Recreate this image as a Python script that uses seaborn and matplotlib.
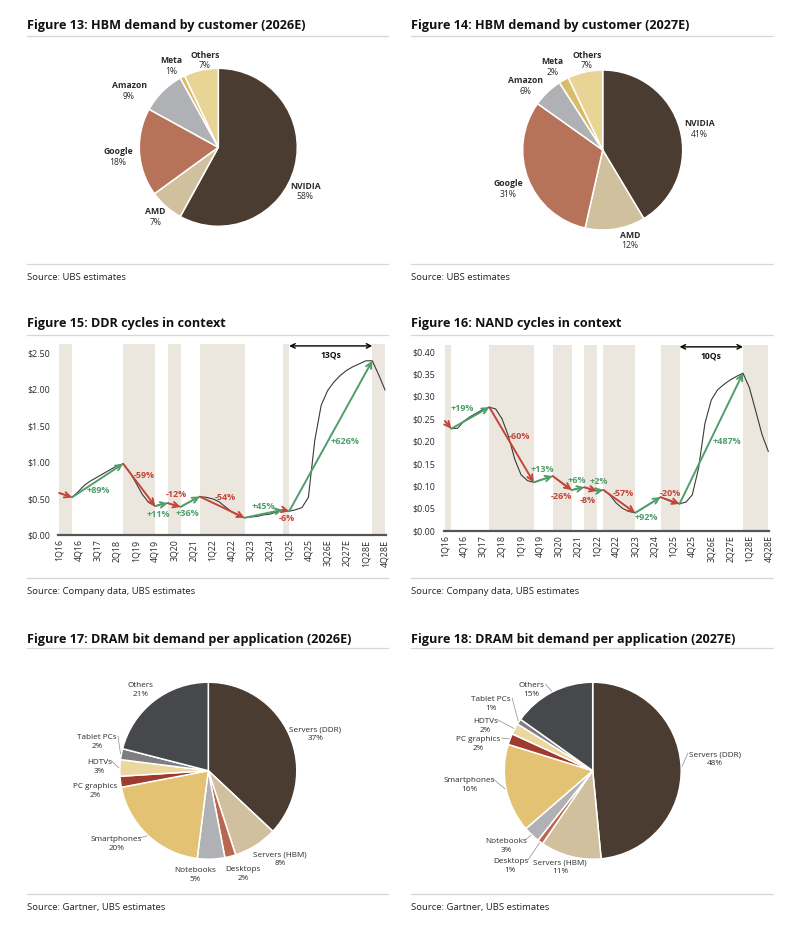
import numpy as np
import matplotlib
matplotlib.use("Agg")
import matplotlib.pyplot as plt
from matplotlib.lines import Line2D
from matplotlib.ticker import FuncFormatter
import seaborn as sns

# HBM demand by customer (%)
hbm_customers = ["NVIDIA", "AMD", "Google", "Amazon", "Meta", "Others"]
hbm_share_2026 = [58, 7, 18, 9, 1, 7]
hbm_share_2027 = [41, 12, 31, 6, 2, 7]

# DRAM bit demand per application (%)
dram_apps = ["Servers (DDR)", "Servers (HBM)", "Desktops", "Notebooks", "Smartphones",
             "PC graphics", "HDTVs", "Tablet PCs", "Others"]
dram_share_2026 = [37, 8, 2, 5, 20, 2, 3, 2, 21]
dram_share_2027 = [48, 11, 1, 3, 16, 2, 2, 1, 15]

# quarterly contract prices, 1Q16 .. 4Q28E (52 quarters)
ddr_price = [0.58, 0.55, 0.52, 0.60, 0.69, 0.75, 0.80, 0.85, 0.90, 0.95,
             0.98, 0.87, 0.72, 0.56, 0.45, 0.40, 0.43, 0.44, 0.41, 0.39,
             0.44, 0.49, 0.53, 0.52, 0.50, 0.46, 0.39, 0.32, 0.27, 0.24,
             0.25, 0.26, 0.28, 0.29, 0.32, 0.35, 0.33, 0.35, 0.38, 0.52,
             1.30, 1.78, 1.98, 2.10, 2.19, 2.26, 2.31, 2.35, 2.39, 2.39,
             2.20, 1.99]
nand_price = [0.245, 0.228, 0.229, 0.245, 0.255, 0.263, 0.271, 0.276, 0.272, 0.250,
              0.212, 0.160, 0.125, 0.112, 0.108, 0.113, 0.118, 0.122, 0.111, 0.100,
              0.091, 0.095, 0.097, 0.092, 0.089, 0.091, 0.080, 0.062, 0.050, 0.043,
              0.040, 0.048, 0.057, 0.066, 0.075, 0.069, 0.063, 0.060, 0.064, 0.080,
              0.140, 0.240, 0.292, 0.315, 0.327, 0.337, 0.345, 0.352, 0.320, 0.268,
              0.215, 0.177]
quarter_ticks = ["1Q16", "4Q16", "3Q17", "2Q18", "1Q19", "4Q19", "3Q20", "2Q21", "1Q22",
                 "4Q22", "3Q23", "2Q24", "1Q25", "4Q25", "3Q26E", "2Q27E", "1Q28E", "4Q28E"]

# cycle turning points (quarter index) and the move labelled on each leg
ddr_turns = [0, 2, 10, 15, 17, 19, 22, 29, 35, 36, 49]
ddr_moves = ["", "+89%", "-59%", "+11%", "-12%", "+36%", "-54%", "+45%", "-6%", "+626%"]
nand_turns = [0, 1, 7, 14, 17, 20, 22, 24, 25, 30, 34, 37, 47]
nand_moves = ["", "+19%", "-60%", "+13%", "-26%", "+6%", "-8%", "+2%", "-57%", "+92%",
              "-20%", "+487%"]

ddr_yticks = [0.0, 0.5, 1.0, 1.5, 2.0, 2.5]
nand_yticks = [0.0, 0.05, 0.10, 0.15, 0.20, 0.25, 0.30, 0.35, 0.40]

# label offsets (points) from the middle of each arrow
ddr_label_off = [(0, 0), (0.5, -7.3), (3.5, 7.1), (-2.3, -7), (1.7, 7.7), (-1.9, -8.4),
                 (2, 7), (-0.5, 5.1), (0.5, -5.6), (10, -3.7)]
nand_label_off = [(0, 0), (-5.5, 7), (6, 6.3), (-1, 7), (-0.5, -10), (-1, 5.7), (-2, -8.4),
                  (-1, 6.3), (2.7, 5.8), (-1, -9.2), (0, 5.2), (11, -2)]

# pie label centres, in radii from the pie centre
hbm_pos_2026 = [(1.10, -0.56), (-0.80, -0.88), (-1.27, -0.12), (-1.13, 0.71),
                (-0.60, 1.03), (-0.17, 1.10)]
hbm_pos_2027 = [(1.21, 0.26), (0.34, -1.13), (-1.18, -0.49), (-0.96, 0.80),
                (-0.625, 1.04), (-0.20, 1.12)]
dram_pos_2026 = [(1.21, 0.41), (0.81, -1.00), (0.39, -1.17), (-0.15, -1.18),
                 (-1.04, -0.83), (-1.28, -0.23), (-1.23, 0.04), (-1.26, 0.32),
                 (-0.77, 0.91)]
dram_pos_2027 = [(1.38, 0.13), (-0.37, -1.09), (-0.93, -1.08), (-0.98, -0.85),
                 (-1.39, -0.16), (-1.29, 0.30), (-1.21, 0.505), (-1.15, 0.75),
                 (-0.69, 0.91)]
dram_leader_2026 = [False, False, False, False, True, False, True, True, False]
dram_leader_2027 = [True, False, True, True, True, True, True, True, True]

hbm_colors = ["#4b3c31", "#d0c09e", "#b7735a", "#b0b1b4", "#d9bb6c", "#e8d596"]
dram_colors = ["#4b3c31", "#d0c09e", "#b8684e", "#b0b1b4", "#e3c373", "#9e3b2c",
               "#ecd79e", "#7d7e82", "#47484b"]

RED = "#c4453a"
GREEN = "#4f9e6b"
SHADE = "#ece7de"
TXT = "#2b2b2b"

W, H = 800, 934

sns.set_theme(style="white")
plt.rcParams["font.family"] = ["Open Sans", "DejaVu Sans"]

fig = plt.figure(figsize=(W / 100, H / 100), dpi=100)


def px_axes(x0, y0, x1, y1):
    return fig.add_axes([x0 / W, 1 - y1 / H, (x1 - x0) / W, (y1 - y0) / H])


def panel_frame(x0, x1, title, ytitle, yrule, ybottom, source, ysource):
    fig.text(x0 / W, 1 - ytitle / H, title, fontsize=9.1, fontweight="bold",
             color="#111111", va="center", ha="left")
    for y in (yrule, ybottom):
        fig.add_artist(Line2D([x0 / W, x1 / W], [1 - y / H, 1 - y / H],
                              color="#d6d6d6", lw=0.9))
    fig.text(x0 / W, 1 - ysource / H, source, fontsize=6.8, color="#222222",
             va="center", ha="left")


def draw_pie(cx, cy, r, shares, names, colors, positions, bold, size, leaders=None):
    half = 1.7 * r
    ax = px_axes(cx - half, cy - half, cx + half, cy + half)
    wedges, _ = ax.pie(shares, colors=colors, startangle=90, counterclock=False,
                       wedgeprops=dict(edgecolor="white", linewidth=1.1))
    ax.set_xlim(-1.7, 1.7)
    ax.set_ylim(-1.7, 1.7)
    ax.set_aspect("equal")
    ax.axis("off")
    for i, (w, name, share, (x, y)) in enumerate(zip(wedges, names, shares, positions)):
        ax.text(x, y + 0.01, name, ha="center", va="bottom", fontsize=size,
                fontweight="bold" if bold else "normal", color=TXT)
        ax.text(x, y - 0.01, f"{share}%", ha="center", va="top", fontsize=size, color=TXT)
        if leaders is not None and leaders[i]:
            ang = np.deg2rad((w.theta1 + w.theta2) / 2)
            hw = 0.021 * len(name) + 0.03
            side = 1 if x > 0 else -1
            ax.plot([np.cos(ang) * 1.01, x - side * hw], [np.sin(ang) * 1.01, y + 0.07],
                    color="#8c8c8c", lw=0.5)
    return ax


def draw_cycles(ax, price, turns, moves, offsets, ylim, yticks):
    x = np.arange(len(price))
    legs = list(zip(turns[:-1], turns[1:]))
    for a, b in legs + [(turns[-1], len(price) - 1)]:
        if price[b] < price[a]:
            ax.axvspan(a, b, color=SHADE, lw=0, zorder=0)
    sns.lineplot(x=x, y=price, ax=ax, color="#3a3a3a", lw=0.8, zorder=2)
    for (a, b), txt, off in zip(legs, moves, offsets):
        c = RED if price[b] < price[a] else GREEN
        ax.annotate("", xy=(b, price[b]), xytext=(a, price[a]),
                    arrowprops=dict(arrowstyle="->", color=c, lw=1.4, shrinkA=0,
                                    shrinkB=0, mutation_scale=10), zorder=3)
        if txt:
            ax.annotate(txt, xy=((a + b) / 2, (price[a] + price[b]) / 2), xytext=off,
                        textcoords="offset points", ha="center", va="center",
                        color=c, fontsize=6.5, fontweight="bold", zorder=4)
    a, b = turns[-2], turns[-1]
    tr = ax.get_xaxis_transform()
    ax.annotate("", xy=(b, 0.99), xytext=(a, 0.99), xycoords=tr, textcoords=tr,
                arrowprops=dict(arrowstyle="<->", color="black", lw=1.0,
                                shrinkA=0, shrinkB=0, mutation_scale=8),
                annotation_clip=False)
    ax.text((a + b) / 2, 0.943, f"{b - a}Qs", transform=tr, ha="center", va="center",
            fontsize=6.2, fontweight="bold", color="#111111")
    ax.set_xlim(-0.15, len(price) - 0.85)
    ax.set_ylim(*ylim)
    ax.set_xticks(np.arange(0, len(price), 3))
    ax.set_xticklabels(quarter_ticks, rotation=90)
    ax.set_yticks(yticks)
    ax.yaxis.set_major_formatter(FuncFormatter(lambda v, _: f"${v:.2f}"))
    ax.tick_params(length=0, labelsize=6.4, labelcolor=TXT)
    ax.tick_params(axis="x", pad=3)
    ax.tick_params(axis="y", pad=6)
    for s in ("left", "top", "right"):
        ax.spines[s].set_visible(False)
    ax.spines["bottom"].set_color("#555555")
    ax.spines["bottom"].set_linewidth(1.6)
    ax.set_xlabel("")
    ax.set_ylabel("")
    ax.patch.set_alpha(0)


# Figure 13 / 14
panel_frame(27, 388, "Figure 13: HBM demand by customer (2026E)", 25, 35.5, 264,
            "Source: UBS estimates", 277.5)
panel_frame(411, 773, "Figure 14: HBM demand by customer (2027E)", 25, 35.5, 264,
            "Source: UBS estimates", 277.5)
draw_pie(218.3, 147.3, 79, hbm_share_2026, hbm_customers, hbm_colors, hbm_pos_2026,
         True, 6.2)
draw_pie(602.7, 150, 80, hbm_share_2027, hbm_customers, hbm_colors, hbm_pos_2027,
         True, 6.2)

# Figure 15 / 16
panel_frame(27, 388, "Figure 15: DDR cycles in context", 324, 335, 577.7,
            "Source: Company data, UBS estimates", 591.7)
panel_frame(411, 773, "Figure 16: NAND cycles in context", 324, 335, 577.7,
            "Source: Company data, UBS estimates", 591.7)
ax_ddr = px_axes(58.3, 344, 386, 535.3)
draw_cycles(ax_ddr, ddr_price, ddr_turns, ddr_moves, ddr_label_off, (0, 2.62), ddr_yticks)
ax_nand = px_axes(444, 345, 769.3, 530.7)
draw_cycles(ax_nand, nand_price, nand_turns, nand_moves, nand_label_off, (0, 0.415),
            nand_yticks)

# Figure 17 / 18
panel_frame(27, 388, "Figure 17: DRAM bit demand per application (2026E)", 639, 648, 894,
            "Source: Gartner, UBS estimates", 907.3)
panel_frame(411, 773, "Figure 18: DRAM bit demand per application (2027E)", 639, 648, 894,
            "Source: Gartner, UBS estimates", 907.3)
draw_pie(208.3, 770.7, 88.5, dram_share_2026, dram_apps, dram_colors, dram_pos_2026,
         False, 5.9, dram_leader_2026)
draw_pie(592.7, 770.7, 88.5, dram_share_2027, dram_apps, dram_colors, dram_pos_2027,
         False, 5.9, dram_leader_2027)

fig.savefig("out.png", dpi=100)
